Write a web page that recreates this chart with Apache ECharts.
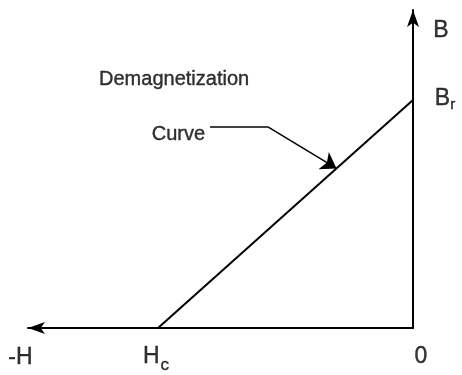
<!DOCTYPE html>
<html>
<head>
<meta charset="utf-8">
<script src="https://cdn.jsdelivr.net/npm/echarts@6/dist/echarts.min.js"></script>
<style>html,body{margin:0;padding:0;background:#fff}#c{width:462px;height:375px}</style>
</head>
<body>
<div id="c"></div>
<script>
// Demagnetization curve: straight line from (Hc, 0) to (0, Br), normalised units
var curveH = [-1, 0];          // H values: Hc, 0
var curveB = [0, 1];           // B values: 0, Br
var axisRangeH = [-1.51, 0];   // -H ... 0
var axisRangeB = [0, 1.395];   // 0 ... B
// annotation arrow (data units): from text to the curve
var arrowH = [-0.796, -0.569, -0.30];
var arrowB = [0.882, 0.882, 0.70];
// text labels
var labelTexts = ['Demagnetization', 'Curve', '{b|B}', '{b|B}{s|r}', '{b|0}', '{b|H}{t|c}', '{b|-H}'];
var labelH = [-0.937, -0.92, 0, 0, 0, -1, -1.54];
var labelB = [1.088, 0.851, 1.307, 1.0, 0, 0, 0];

var chart = echarts.init(document.getElementById('c'), null, {renderer: 'canvas'});
var font = 'Liberation Sans';
var offsets = [[0,0],[0,0],[28,1],[32,-1],[8,29],[-2,29],[0,30]];
var labelData = labelTexts.map(function (t, i) {
  return {
    value: [labelH[i], labelB[i]],
    name: t,
    label: {offset: offsets[i]}
  };
});
var txt = {color: '#000', textBorderColor: '#000', textBorderWidth: 0.4, fontFamily: font};
var option = {
  animation: false,
  grid: {left: 28, right: 49, top: 10, bottom: 47},
  xAxis: {
    type: 'value', min: axisRangeH[0], max: axisRangeH[1],
    axisLine: {show: true, onZero: false, symbol: ['arrow', 'none'], symbolSize: [9, 17],
      lineStyle: {color: '#000', width: 2}},
    axisTick: {show: false}, axisLabel: {show: false}, splitLine: {show: false}
  },
  yAxis: {
    type: 'value', min: axisRangeB[0], max: axisRangeB[1], position: 'right',
    axisLine: {show: true, onZero: false, symbol: ['none', 'arrow'], symbolSize: [9, 17],
      lineStyle: {color: '#000', width: 2}},
    axisTick: {show: false}, axisLabel: {show: false}, splitLine: {show: false}
  },
  series: [
    {
      type: 'line',
      data: curveH.map(function (h, i) { return [h, curveB[i]]; }),
      showSymbol: false, symbol: 'none',
      lineStyle: {color: '#000', width: 2},
      silent: true
    },
    {
      type: 'lines',
      coordinateSystem: 'cartesian2d',
      symbolSize: [8, 15],
      lineStyle: {color: '#000', width: 1.5, opacity: 1},
      data: [
        {coords: [[arrowH[0], arrowB[0]], [arrowH[1], arrowB[1]]], symbol: ['none', 'none']},
        {coords: [[arrowH[1], arrowB[1]], [arrowH[2], arrowB[2]]], symbol: ['none', 'arrow']}
      ],
      silent: true
    },
    {
      type: 'scatter',
      symbolSize: 0,
      silent: true,
      clip: false,
      data: labelData,
      label: Object.assign({
        show: true, position: 'inside', fontSize: 20,
        formatter: function (p) { return p.name; },
        rich: {
          b: Object.assign({fontSize: 23}, txt),
          s: Object.assign({fontSize: 15, padding: [12, 0, 0, 0]}, txt),
          t: Object.assign({fontSize: 17, padding: [16, 0, 0, 1]}, txt)
        }
      }, txt)
    }
  ]
};
chart.setOption(option);
</script>
</body>
</html>
